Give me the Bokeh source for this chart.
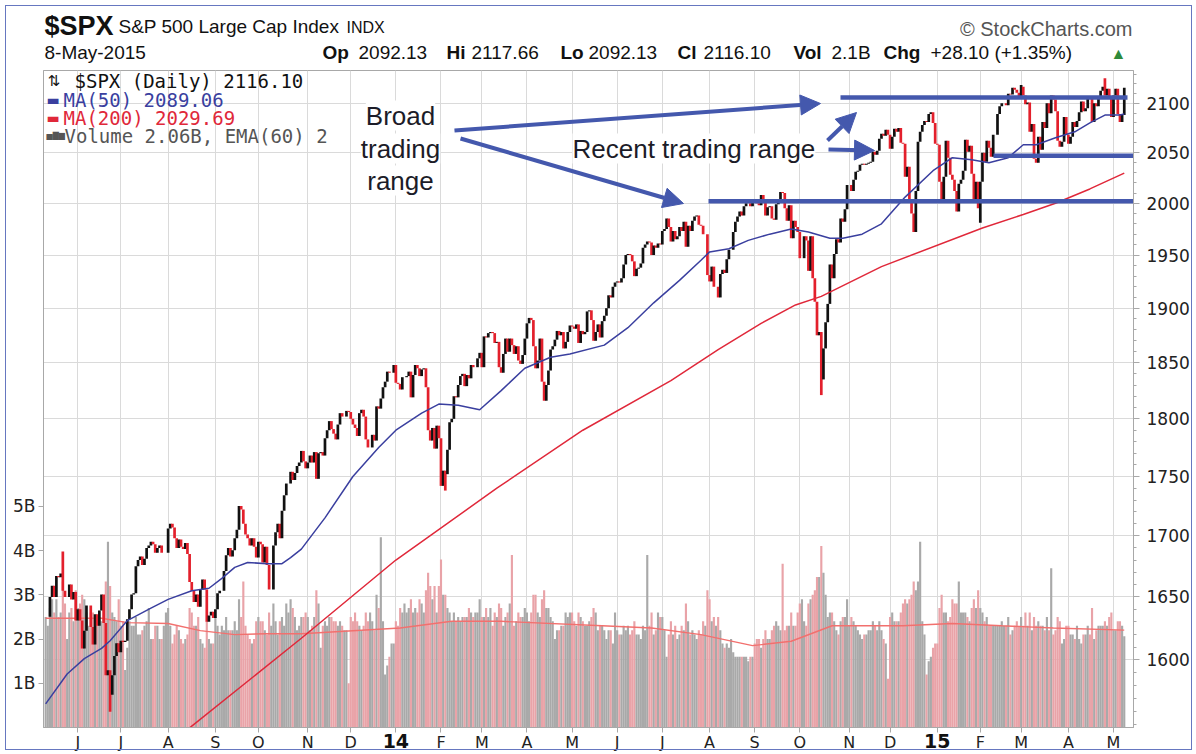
import numpy as np
import pandas as pd
from bokeh.plotting import figure
from bokeh.layouts import column
from bokeh.models import (Range1d, LinearAxis, LinearScale, FixedTicker, Label, Arrow,
                          NormalHead, ColumnDataSource)
from bokeh.embed import file_html
from bokeh.resources import INLINE

# ---------------- data ----------------
first_day = "2013-05-10"
last_day = "2015-05-08"
holidays = ["2013-05-27", "2013-07-04", "2013-09-02", "2013-11-28", "2013-12-25",
            "2014-01-01", "2014-01-20", "2014-02-17", "2014-04-18", "2014-05-26",
            "2014-07-04", "2014-09-01", "2014-11-27", "2014-12-25",
            "2015-01-01", "2015-01-19", "2015-02-16", "2015-04-03"]

close_2013 = [
    1634, 1634, 1650, 1659, 1650, 1667, 1666, 1669, 1655, 1650, 1650, 1660, 1648, 1654, 1631,
    1640, 1631, 1609, 1623, 1643, 1643, 1626, 1612, 1636, 1627, 1639, 1652, 1629, 1588, 1592, 1573, 1588, 1603, 1613, 1606,
    1615, 1614, 1615, 1632, 1640, 1652, 1653, 1675, 1680, 1683, 1676, 1681, 1690, 1692, 1695, 1693, 1686, 1690, 1692, 1686, 1686, 1686,
    1706, 1710, 1707, 1698, 1690, 1697, 1691, 1689, 1694, 1685, 1662, 1655, 1646, 1652, 1642, 1656, 1664, 1656, 1630, 1635, 1638, 1633,
    1640, 1653, 1655, 1655, 1671, 1684, 1690, 1683, 1688, 1698, 1705, 1725, 1722, 1710, 1701, 1698, 1692, 1698, 1691, 1682,
    1695, 1693, 1678, 1691, 1676, 1656, 1656, 1692, 1703, 1710, 1698, 1721, 1734, 1744, 1744, 1754, 1747, 1753, 1759, 1762, 1772, 1763, 1757,
    1762, 1768, 1762, 1771, 1748, 1770, 1771, 1768, 1783, 1790, 1798, 1791, 1787, 1782, 1795, 1805, 1802, 1802, 1807, 1806,
    1800, 1795, 1792, 1785, 1805, 1808, 1802, 1782, 1775, 1775, 1786, 1781, 1811, 1809, 1818, 1828, 1833, 1842, 1841, 1841, 1848]
close_2014 = [
    1832, 1831, 1826, 1837, 1837, 1838, 1842, 1819, 1839, 1848, 1845, 1838, 1844, 1845, 1828, 1790, 1781, 1792, 1774, 1794, 1783,
    1742, 1755, 1752, 1773, 1797, 1800, 1820, 1819, 1830, 1838, 1840, 1829, 1839, 1836, 1848, 1846, 1846, 1854, 1859,
    1846, 1874, 1873, 1877, 1878, 1877, 1868, 1869, 1846, 1841, 1858, 1872, 1860, 1872, 1866, 1858, 1865, 1852, 1849, 1857, 1872,
    1886, 1891, 1889, 1865, 1845, 1852, 1872, 1833, 1816, 1830, 1843, 1862, 1865, 1871, 1879, 1875, 1878, 1863, 1869, 1878, 1884,
    1883, 1881, 1885, 1868, 1879, 1876, 1878, 1897, 1898, 1889, 1870, 1878, 1885, 1873, 1888, 1893, 1900, 1912, 1910, 1920, 1924,
    1925, 1924, 1928, 1941, 1950, 1951, 1950, 1944, 1930, 1937, 1938, 1942, 1957, 1960, 1963, 1962, 1950, 1959, 1957, 1961, 1960,
    1973, 1975, 1985, 1977, 1963, 1973, 1965, 1968, 1977, 1973, 1982, 1958, 1978, 1973, 1983, 1987, 1988, 1979, 1978, 1970, 1970, 1931,
    1925, 1939, 1920, 1920, 1910, 1932, 1936, 1933, 1946, 1955, 1955, 1972, 1982, 1987, 1992, 1988, 1997, 2000, 2000, 1997, 2003,
    2002, 2000, 1998, 2008, 2001, 1988, 1996, 1997, 1985, 1984, 1999, 2001, 2011, 2010, 1995, 1983, 1998, 1966, 1983, 1977, 1972,
    1947, 1947, 1968, 1964, 1935, 1968, 1928, 1906, 1875, 1878, 1862, 1863, 1887, 1904, 1941, 1928, 1951, 1965, 1962, 1985, 1982, 1994, 2018,
    2018, 2012, 2023, 2031, 2032, 2038, 2039, 2038, 2039, 2040, 2041, 2051, 2048, 2052, 2064, 2069, 2067, 2073, 2068,
    2054, 2066, 2074, 2071, 2075, 2060, 2059, 2026, 2036, 2002, 1990, 1972, 2012, 2061, 2071, 2078, 2082, 2081, 2089, 2091, 2080, 2059]
close_2015 = [
    2058, 2021, 2003, 2026, 2062, 2045, 2028, 2023, 2012, 1992, 2019, 2023, 2032, 2063, 2051, 2057, 2029, 2002, 2021, 1995,
    2021, 2050, 2041, 2062, 2055, 2046, 2068, 2068, 2089, 2097, 2100, 2100, 2098, 2110, 2109, 2116, 2114, 2111, 2105,
    2117, 2108, 2099, 2101, 2071, 2079, 2044, 2040, 2066, 2053, 2081, 2075, 2100, 2090, 2108, 2104, 2092, 2062, 2056, 2061, 2086, 2068,
    2059, 2066, 2081, 2076, 2082, 2091, 2102, 2092, 2095, 2106, 2105, 2081, 2100, 2097, 2107, 2113, 2117, 2108, 2115, 2107, 2086,
    2108, 2115, 2089, 2081, 2088, 2116.1]

# notable intraday extremes visible on the chart
wick_date = ["2013-05-22", "2013-06-24", "2014-02-05", "2014-10-15", "2014-10-16", "2015-02-02",
             "2015-04-27", "2015-03-02"]
wick_low = [None, 1560, 1738, 1821, 1835, 1981, None, None]
wick_high = [1687, None, None, None, None, None, 2126, 2119]

# volume, billions
volume_2013 = [
    2.5, 2.3, 2.7, 2.9, 2.6, 2.9, 2.5, 2.6, 3.3, 2.8, 2.0, 2.6, 2.7, 2.4, 3.1,
    2.7, 2.8, 3.0, 2.9, 2.6, 2.3, 2.6, 2.6, 2.5, 2.4, 2.5, 2.4, 2.8, 3.3, 4.2, 3.2, 2.6, 2.5, 2.4, 2.9,
    2.3, 2.4, 1.3, 1.8, 2.4, 2.3, 2.3, 2.5, 2.1, 2.1, 2.2, 2.3, 2.4, 2.7, 2.0, 2.0, 2.3, 2.3, 2.0, 2.0, 2.3, 2.6,
    2.7, 2.3, 1.9, 2.1, 2.3, 2.2, 2.0, 1.9, 2.0, 2.1, 2.7, 2.6, 2.3, 2.3, 2.5, 2.0, 1.9, 1.8, 2.4, 2.0, 1.9, 1.9,
    2.5, 2.3, 2.1, 2.3, 2.2, 2.5, 2.2, 2.2, 2.2, 2.4, 2.2, 2.9, 2.5, 3.3, 2.3, 2.1, 2.0, 1.9, 2.0, 2.4,
    2.5, 2.4, 2.4, 2.2, 2.1, 2.6, 2.3, 2.8, 2.4, 2.1, 2.4, 2.5, 2.3, 2.8, 2.6, 2.9, 2.7, 2.5, 2.2, 2.3, 2.5, 2.5, 2.6,
    2.5, 2.2, 2.3, 2.5, 3.1, 2.8, 1.8, 2.3, 2.4, 2.3, 2.5, 2.5, 2.4, 2.4, 2.3, 2.4, 2.3, 2.2, 2.2, 1.0,
    2.5, 2.4, 2.6, 2.4, 2.3, 2.2, 2.3, 2.6, 2.4, 2.6, 2.4, 2.2, 3.0, 2.7, 4.3, 2.4, 1.2, 1.4, 1.6, 1.9, 1.9]
volume_2014 = [
    2.4, 2.3, 2.7, 2.6, 2.8, 2.6, 2.7, 2.9, 2.6, 2.7, 2.6, 2.9, 2.8, 2.6, 3.1, 3.5, 3.2, 2.9, 3.2, 2.6, 3.2,
    3.8, 3.0, 3.0, 2.7, 2.6, 2.4, 2.6, 2.4, 2.5, 2.4, 2.5, 2.5, 2.5, 2.7, 2.6, 2.5, 2.6, 2.6, 2.9,
    2.5, 2.5, 2.7, 2.5, 2.7, 2.3, 2.6, 2.5, 2.8, 2.7, 2.3, 2.5, 2.6, 2.8, 3.9, 2.3, 2.4, 2.6, 2.5, 2.5, 2.7,
    2.6, 2.4, 2.6, 3.0, 3.0, 2.6, 2.5, 2.9, 3.1, 2.7, 2.7, 2.5, 2.4, 2.0, 2.2, 2.2, 2.3, 2.3, 2.6, 2.5, 2.6,
    2.6, 2.4, 2.3, 2.6, 2.5, 2.4, 2.3, 2.3, 2.4, 2.5, 2.7, 2.6, 2.2, 2.3, 2.3, 2.2, 2.0, 2.2, 2.2, 1.9, 2.6,
    2.2, 2.1, 2.1, 2.3, 2.2, 2.3, 2.1, 2.2, 2.4, 2.1, 2.1, 2.0, 2.3, 2.2, 3.9, 2.3, 2.6, 2.1, 2.2, 2.6, 2.5,
    2.5, 2.2, 1.6, 2.1, 2.4, 2.1, 2.3, 2.0, 2.1, 2.3, 2.2, 2.8, 2.4, 2.1, 2.2, 2.1, 2.0, 2.2, 2.1, 2.4, 2.3, 3.1,
    2.9, 2.4, 2.5, 2.3, 2.5, 2.2, 1.9, 1.8, 1.9, 1.8, 2.0, 1.7, 1.6, 1.6, 1.6, 1.6, 1.6, 1.6, 1.5, 1.6, 1.6,
    1.9, 2.0, 2.0, 1.8, 2.0, 2.2, 2.0, 2.0, 2.2, 2.3, 2.4, 2.3, 2.2, 3.7, 2.2, 2.3, 2.3, 2.6, 2.3, 2.3, 2.6,
    2.8, 2.9, 2.4, 2.3, 2.8, 2.9, 3.0, 3.1, 3.4, 3.4, 4.1, 3.5, 3.0, 2.5, 2.6, 2.6, 2.4, 2.2, 2.1, 2.4, 2.5, 2.5, 2.9,
    2.3, 2.5, 2.4, 2.3, 2.2, 2.1, 2.0, 2.1, 2.1, 2.2, 2.2, 2.4, 2.3, 2.2, 2.4, 2.2, 2.0, 1.9, 1.1,
    2.5, 2.6, 2.4, 2.4, 2.4, 2.6, 2.8, 2.9, 2.8, 2.9, 3.0, 3.3, 3.1, 3.3, 4.2, 2.4, 2.1, 1.2, 1.5, 1.6, 1.8, 1.9]
volume_2015 = [
    1.9, 2.7, 3.0, 2.6, 2.6, 2.4, 2.5, 2.9, 2.8, 2.8, 3.3, 2.6, 2.6, 2.6, 2.5, 2.4, 2.7, 2.9, 2.7, 3.1,
    2.7, 2.6, 2.4, 2.5, 2.3, 2.3, 2.3, 2.3, 2.3, 2.3, 2.4, 2.3, 2.3, 2.5, 2.1, 2.2, 2.3, 2.4, 2.3,
    2.5, 2.3, 2.6, 2.3, 2.6, 2.2, 2.5, 2.3, 2.4, 2.3, 2.3, 2.2, 2.5, 2.2, 3.6, 2.1, 2.2, 2.5, 2.4, 1.9, 2.0, 2.3,
    2.3, 2.1, 2.1, 2.0, 2.3, 2.0, 1.9, 2.1, 2.1, 2.3, 2.1, 2.7, 2.0, 2.2, 2.3, 2.3, 2.3, 2.4, 2.3, 2.5, 2.6,
    2.2, 2.2, 2.4, 2.4, 2.3, 2.06]

# moving averages (trading-day number, value)
ma50_day = [0, 10, 18, 26, 30, 38, 49, 57, 68, 76, 82, 88, 94, 103, 110, 114, 119, 130, 143, 155,
            163, 175, 183, 192, 202, 212, 223, 235, 244, 260, 271, 283, 295, 305, 309, 318, 327, 337,
            347, 355, 365, 371, 380, 389, 400, 413, 422, 431, 439, 448, 455, 461, 470, 479, 486, 493, 500, 502]
ma50_val = [1566, 1589, 1601, 1609, 1615, 1631, 1641, 1648, 1655, 1657, 1665, 1674, 1678, 1677, 1677, 1682,
            1689, 1715, 1750, 1775, 1790, 1805, 1813, 1812, 1808, 1825, 1845, 1855, 1858, 1866, 1882, 1905,
            1926, 1945, 1953, 1956, 1964, 1970, 1975, 1972, 1966, 1966, 1970, 1980, 2006, 2032, 2045, 2043,
            2040, 2045, 2058, 2058, 2065, 2071, 2080, 2088, 2088, 2089.06]
ma200_day = [60, 68, 119, 163, 210, 250, 291, 313, 333, 349, 361, 377, 389, 436, 455, 470, 486, 502]
ma200_val = [1538, 1549, 1617, 1680, 1740, 1790, 1834, 1862, 1886, 1903, 1911, 1927, 1939, 1976, 1989,
             2000, 2014, 2029.69]
ema60_day = [0, 26, 38, 57, 72, 88, 103, 119, 165, 189, 212, 259, 282, 305, 329, 347, 366, 399, 422, 445, 469, 502]
ema60_val = [2.47, 2.47, 2.37, 2.35, 2.19, 2.10, 2.12, 2.12, 2.25, 2.40, 2.40, 2.30, 2.25, 2.10, 1.85,
             1.95, 2.30, 2.30, 2.35, 2.30, 2.25, 2.20]

# annotation levels drawn on the chart
range_level = [2106, 2047, 2002]
price_ticks = [1600, 1650, 1700, 1750, 1800, 1850, 1900, 1950, 2000, 2050, 2100]
volume_ticks = [1, 2, 3, 4, 5]
month_letters = ["J", "F", "M", "A", "M", "J", "J", "A", "S", "O", "N", "D"]

# ---------------- assemble ----------------
days = pd.bdate_range(first_day, last_day)
days = days[~days.isin(pd.to_datetime(holidays))]
close = close_2013 + close_2014 + close_2015
volume = volume_2013 + volume_2014 + volume_2015
n = min(len(days), len(close), len(volume))
days = days[:n]
close = np.array(close[:n], dtype=float)
volume = np.array(volume[:n], dtype=float)
xs = np.arange(n)
prev = np.concatenate([[close[0]], close[:-1]])
up = close >= prev
bar_lo = np.minimum(prev, close)
bar_hi = np.maximum(prev, close)
pos = {d: i for i, d in enumerate(days.strftime("%Y-%m-%d"))}
for d, lo, hi in zip(wick_date, wick_low, wick_high):
    if d in pos:
        if lo is not None:
            bar_lo[pos[d]] = min(bar_lo[pos[d]], lo)
        if hi is not None:
            bar_hi[pos[d]] = max(bar_hi[pos[d]], hi)
src = ColumnDataSource(dict(
    x=xs, lo=bar_lo, hi=bar_hi, vol=volume,
    pcol=np.where(up, "#111111", "#e3202c"),
    vcol=np.where(up, "#a9a9a9", "#e9a3a8"),
))

ser = pd.Series(xs, index=days)
firsts = ser.groupby([days.year, days.month]).min()
month_ticks, month_labels, year_ticks, year_labels = [], [], [], []
for (yy, mm), i in list(firsts.items())[1:]:
    month_ticks.append(int(i))
    if mm == 1:
        month_labels.append("")
        year_ticks.append(int(i))
        year_labels.append(str(yy)[2:])
    else:
        month_labels.append(month_letters[mm - 1])

# ---------------- geometry ----------------
W, H, HH = 1196, 754, 70          # page, header strip height
FL, FR, FT, FB = 43, 1133, 70, 727
X0, X1 = -1.0, 506.3
Y0, Y1 = 1548.0, 2134.0


def px2x(px):
    return X0 + (px - FL) / (FR - FL) * (X1 - X0)


def py2y(py):
    return Y0 * (Y1 / Y0) ** ((FB - py) / (FB - FT))


# ---------------- header strip (its frame is aligned with the chart frame: x = page px) ----------------
hdr = figure(width=W, height=HH, x_range=Range1d(FL, FR), y_range=Range1d(HH, 0),
             output_backend="svg", toolbar_location=None, title=None, min_border=0,
             x_axis_location=None, y_axis_location=None)
hdr.grid.visible = False
hdr.outline_line_color = None
hdr.background_fill_color = "white"
hdr.border_fill_color = "white"


def hlab(px, py, text, size, color="#111111", style="normal", align="left", font="Liberation Sans"):
    hdr.add_layout(Label(x=px, y=py, text=text, text_font=font, text_font_size=f"{size}px",
                         text_color=color, text_font_style=style, text_align=align,
                         text_baseline="middle"))


hlab(44, 25, "$SPX", 27, style="bold")
hlab(118, 26, "S&P 500 Large Cap Index", 19)
hlab(346, 27, "INDX", 16)
hlab(1132, 28, "\u00a9 StockCharts.com", 20, "#555555", align="right")
hlab(44, 52, "8-May-2015", 19)
row2 = [(322, "Op", True), (358, "2092.13", False), (446, "Hi", True), (471, "2117.66", False),
        (560, "Lo", True), (588, "2092.13", False), (677, "Cl", True), (703, "2116.10", False),
        (793, "Vol", True), (831, "2.1B", False), (883, "Chg", True), (930, "+28.10 (+1.35%)", False)]
for x_, t_, b_ in row2:
    hlab(x_, 52, t_, 19, style="bold" if b_ else "normal")
hlab(1110, 53, "\u25b2", 16, "#2f8a3a")

# ---------------- main chart ----------------
p = figure(width=W, height=H - HH, x_range=Range1d(X0, X1), y_range=Range1d(Y0, Y1),
           y_axis_type="log", y_axis_location="right", output_backend="svg",
           toolbar_location=None, title=None,
           min_border_left=FL, min_border_right=W - FR, min_border_top=FT - HH,
           min_border_bottom=H - FB)
p.background_fill_color = "white"
p.border_fill_color = "white"
p.outline_line_color = "#a8a8a8"
p.extra_y_ranges = {"vol": Range1d(0, 14.85)}
p.extra_y_scales = {"vol": LinearScale()}

p.xgrid.ticker = FixedTicker(ticks=month_ticks)
p.ygrid.ticker = FixedTicker(ticks=price_ticks)
p.xgrid.grid_line_color = "#dadada"
p.ygrid.grid_line_color = "#dadada"

ax = p.yaxis[0]
ax.ticker = FixedTicker(ticks=price_ticks, minor_ticks=list(range(1550, 2140, 10)))
ax.major_label_overrides = {t: str(t) for t in price_ticks}
ax.major_label_text_font = "DejaVu Sans"
ax.major_label_text_font_size = "17px"
ax.major_label_text_color = "#222222"
ax.axis_line_color = "#a8a8a8"
ax.major_tick_line_color = "#a8a8a8"
ax.minor_tick_line_color = "#a8a8a8"
ax.major_tick_in = 0
ax.major_tick_out = 6
ax.minor_tick_in = 0
ax.minor_tick_out = 3
ax.major_label_standoff = 7

bx = p.xaxis[0]
bx.ticker = FixedTicker(ticks=month_ticks)
bx.major_label_overrides = {t: l for t, l in zip(month_ticks, month_labels)}
bx.major_label_text_font = "DejaVu Sans"
bx.major_label_text_font_size = "16px"
bx.major_label_text_color = "#222222"
bx.axis_line_color = "#a8a8a8"
bx.major_tick_line_color = "#a8a8a8"
bx.major_tick_in = 0
bx.major_tick_out = 5
bx.major_label_standoff = 0

# second bottom axis carrying the bold year labels, pulled up onto the month row
yx = LinearAxis(ticker=FixedTicker(ticks=year_ticks))
yx.major_label_overrides = {t: l for t, l in zip(year_ticks, year_labels)}
yx.major_label_text_font = "DejaVu Sans"
yx.major_label_text_font_size = "19px"
yx.major_label_text_font_style = "bold"
yx.major_label_text_color = "#111111"
yx.axis_line_color = None
yx.major_tick_line_color = None
yx.minor_tick_line_color = None
yx.major_tick_in = 0
yx.major_tick_out = 0
yx.major_label_standoff = -21
p.add_layout(yx, "below")

vx = LinearAxis(y_range_name="vol", ticker=FixedTicker(ticks=volume_ticks))
vx.major_label_overrides = {t: f"{t}B" for t in volume_ticks}
vx.major_label_text_font = "DejaVu Sans"
vx.major_label_text_font_size = "17px"
vx.major_label_text_color = "#222222"
vx.axis_line_color = "#a8a8a8"
vx.major_tick_line_color = "#a8a8a8"
vx.major_tick_in = 0
vx.major_tick_out = 5
vx.major_label_standoff = 3
p.add_layout(vx, "left")

# volume bars + EMA
p.vbar(x="x", top="vol", bottom=0, width=1.0, fill_color="vcol", line_color=None,
       y_range_name="vol", source=src)
p.line(ema60_day, ema60_val, color="#f2706e", line_width=1.4, y_range_name="vol")

# price bars
p.segment(x0="x", y0="lo", x1="x", y1="hi", line_color="pcol", line_width=2.7, source=src)

# moving averages
p.line(ma200_day, ma200_val, color="#e0283a", line_width=1.5)
p.line(ma50_day, ma50_val, color="#3a3f9f", line_width=1.5)

# trading-range annotations
BLUE = "#4458ad"
seg_x0 = [px2x(840), px2x(993), px2x(708)]
seg_x1 = [px2x(1127), X1, X1]
p.segment(x0=seg_x0, y0=range_level, x1=seg_x1, y1=range_level, line_color=BLUE, line_width=4.5)
arrows_px = [((454, 130), (820, 103)), ((460, 138), (683, 203)),
             ((827, 140), (856, 112)), ((828, 149), (874, 150))]
for (sx, sy), (ex, ey) in arrows_px:
    p.add_layout(Arrow(end=NormalHead(size=20, fill_color=BLUE, line_color=BLUE, line_width=1),
                       x_start=px2x(sx), y_start=py2y(sy), x_end=px2x(ex), y_end=py2y(ey),
                       line_color=BLUE, line_width=4))


def lab(px, py, text, size, color="#111111", font="Liberation Sans", style="normal",
        align="left", bg=None):
    lb = Label(x=px2x(px), y=py2y(py), text=text, text_font=font, text_font_size=f"{size}px",
               text_color=color, text_font_style=style, text_align=align, text_baseline="middle")
    if bg is not None:
        lb.background_fill_color = bg
        lb.background_fill_alpha = 1.0
    p.add_layout(lb)


lab(400, 115, "Broad", 26, "#1c1c28", align="center", bg="white")
lab(400, 148, "trading", 26, "#1c1c28", align="center", bg="white")
lab(400, 180, "range", 26, "#1c1c28", align="center", bg="white")
lab(572, 148, "Recent trading range", 26, "#1c1c28", bg="white")

# legend
MONO = "DejaVu Sans Mono"
lab(47, 80, "\u21c5", 15, "#111111", font="DejaVu Sans")
lab(74, 80, "$SPX (Daily) 2116.10", 19, "#111111", font=MONO)
lab(46, 99, "\u25ac", 14, "#3a3f9f", font="DejaVu Sans")
lab(63, 99, "MA(50) 2089.06", 19, "#3a3f9f", font=MONO)
lab(46, 117, "\u25ac", 14, "#e0283a", font="DejaVu Sans")
lab(63, 117, "MA(200) 2029.69", 19, "#e0283a", font=MONO)
lab(46, 135, "\u2585\u2587\u2586", 8, "#555555", font="DejaVu Sans")
lab(64, 135, "Volume 2.06B, EMA(60) 2", 19, "#555555", font=MONO)

page = column(hdr, p, spacing=0)
html = file_html(page, INLINE)
frame_div = ('<div style="position:fixed;left:5px;top:5px;width:1185px;height:743px;'
             'border:1px solid #6677c0;pointer-events:none;z-index:10"></div>')
html = html.replace("</body>", frame_div + "</body>", 1)
open("out.html", "w").write(html)
